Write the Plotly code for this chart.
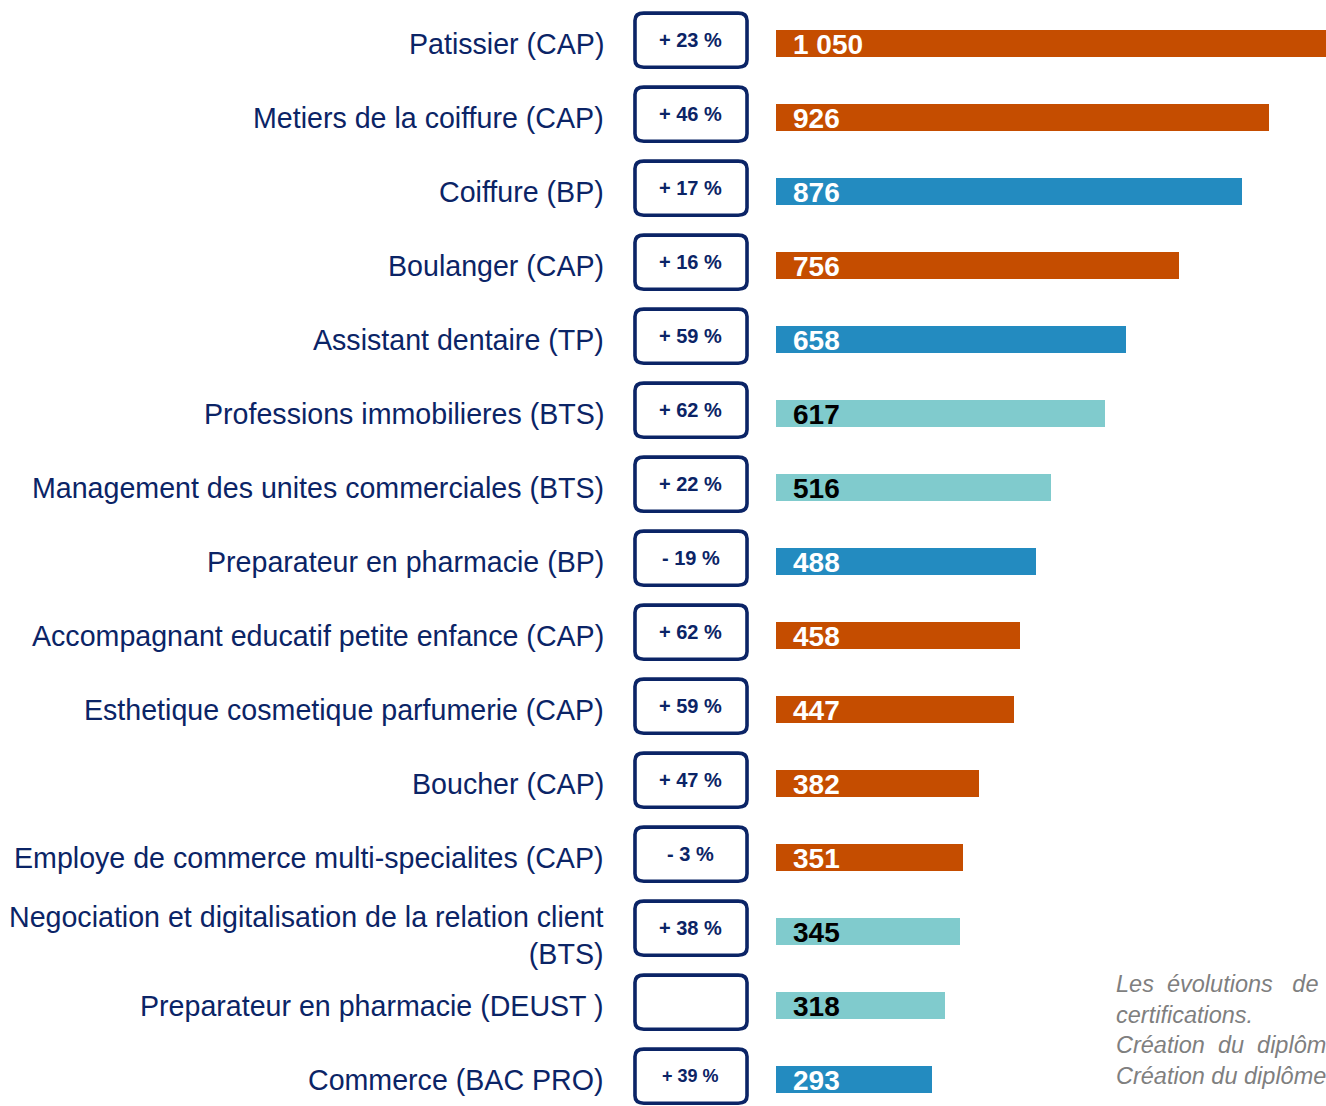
import plotly.graph_objects as go

labels = [
    "Patissier (CAP)",
    "Metiers de la coiffure (CAP)",
    "Coiffure (BP)",
    "Boulanger (CAP)",
    "Assistant dentaire (TP)",
    "Professions immobilieres (BTS)",
    "Management des unites commerciales (BTS)",
    "Preparateur en pharmacie (BP)",
    "Accompagnant educatif petite enfance (CAP)",
    "Esthetique cosmetique parfumerie (CAP)",
    "Boucher (CAP)",
    "Employe de commerce multi-specialites (CAP)",
    "Negociation et digitalisation de la relation client<br>(BTS)",
    "Preparateur en pharmacie (DEUST )",
    "Commerce (BAC PRO)",
]
values = [1050, 926, 876, 756, 658, 617, 516, 488, 458, 447, 382, 351, 345, 318, 293]
groups = ["CAP", "CAP", "BP", "CAP", "BP", "BTS", "BTS", "BP", "CAP", "CAP", "CAP", "CAP", "BTS", "BTS", "BP"]
changes = ["+ 23 %", "+ 46 %", "+ 17 %", "+ 16 %", "+ 59 %", "+ 62 %", "+ 22 %", "- 19 %",
           "+ 62 %", "+ 59 %", "+ 47 %", "- 3 %", "+ 38 %", "", "+ 39 %"]
note_lines = [
    "Les\u00a0 évolutions\u00a0\u00a0 de",
    "certifications.",
    "Création\u00a0 du\u00a0 diplôm",
    "Création du diplôme",
]

group_colors = {"CAP": "#C54D00", "BP": "#238BC0", "BTS": "#80CBCD"}
text_colors = {"CAP": "white", "BP": "white", "BTS": "black"}
NAVY = "#0B2466"
FONT = "Arial, Liberation Sans, sans-serif"

n = len(labels)
ypos = list(range(n))

fig = go.Figure()
fig.add_trace(go.Bar(
    x=values, y=ypos, orientation="h",
    marker=dict(color=[group_colors[g] for g in groups], line=dict(width=0)),
    width=0.365, hoverinfo="skip", showlegend=False,
))

annotations = []
shapes = []
bx0, bx1 = -0.2564, -0.0527
for i in range(n):
    annotations.append(dict(
        x=-0.3091, xref="paper", y=ypos[i], yref="y", xanchor="right", yanchor="middle",
        yshift=-4 if "<br>" in labels[i] else 0,
        text=labels[i], showarrow=False, align="right",
        font=dict(family=FONT, size=28.6, color=NAVY),
    ))
    annotations.append(dict(
        x=0, xref="x", y=ypos[i], yref="y", xanchor="left", yanchor="middle",
        xshift=15, yshift=-1,
        text="<b>" + f"{values[i]:,}".replace(",", " ") + "</b>", showarrow=False,
        font=dict(family=FONT, size=28, color=text_colors[groups[i]]),
    ))
    yc = ypos[i] - 0.045
    h = 0.365
    r = 0.1
    rx = 0.016
    y0, y1 = yc + h, yc - h
    path = (f"M {bx0+rx},{y1} L {bx1-rx},{y1} Q {bx1},{y1} {bx1},{y1+r} "
            f"L {bx1},{y0-r} Q {bx1},{y0} {bx1-rx},{y0} "
            f"L {bx0+rx},{y0} Q {bx0},{y0} {bx0},{y0-r} "
            f"L {bx0},{y1+r} Q {bx0},{y1} {bx0+rx},{y1} Z")
    shapes.append(dict(type="path", xref="paper", yref="y", path=path,
                       line=dict(color=NAVY, width=3.6), fillcolor="white"))
    if changes[i]:
        annotations.append(dict(
            x=(bx0 + bx1) / 2, xref="paper", y=yc, yref="y", xanchor="center", yanchor="middle",
            text="<b>" + changes[i] + "</b>", showarrow=False,
            font=dict(family=FONT, size=18 if i == n - 1 else 20, color=NAVY),
        ))

annotations.append(dict(
    x=(1114 - 776) / 550, xref="paper", y=1 - 969 / 1106, yref="paper", xanchor="left", yanchor="top",
    text="<br>".join(f"<i>{t}</i>" for t in note_lines), showarrow=False, align="left",
    font=dict(family=FONT, size=23.5, color="#7F7F7F"),
))

fig.update_layout(
    width=1326, height=1106,
    margin=dict(l=776, r=0, t=0, b=0),
    paper_bgcolor="white", plot_bgcolor="white",
    xaxis=dict(range=[0, 1033], visible=False, fixedrange=True),
    yaxis=dict(range=[14.358, -0.588], visible=False, fixedrange=True),
    annotations=annotations, shapes=shapes,
    bargap=0,
)

fig.write_html("out.html", config={"displayModeBar": False},
               post_script="document.body.style.margin='0';")
